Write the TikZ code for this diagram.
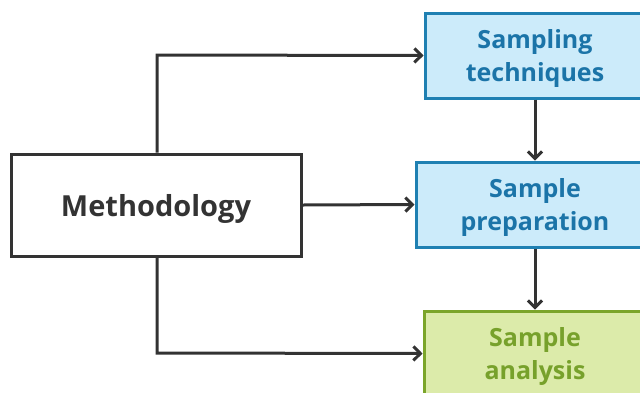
\documentclass[tikz,border=0pt]{standalone}
\usepackage{fontspec}
\setmainfont{Open Sans}
\usetikzlibrary{arrows.meta}
\definecolor{linecol}{HTML}{333333}
\definecolor{bluefill}{HTML}{CCEBFA}
\definecolor{blueline}{HTML}{1F80B2}
\definecolor{bluetext}{HTML}{1B74A8}
\definecolor{greenfill}{HTML}{DCEBAA}
\definecolor{greenline}{HTML}{7BA52A}
\definecolor{greentext}{HTML}{77A12B}
\newcommand\lowered[2]{\raisebox{-#1}[\height][\depth]{\begin{tabular}{@{}c@{}}#2\end{tabular}}}
\tikzset{
  box/.style={draw, line width=3pt, minimum height=#1, inner sep=0pt, font=\fontsize{25}{33}\selectfont\bfseries},
  bluebox/.style={box=85pt, fill=bluefill, draw=blueline, text=bluetext},
  greenbox/.style={box=85pt, fill=greenfill, draw=greenline, text=greentext},
  conn/.style={draw=linecol, line width=3pt, -{Straight Barb[length=7pt,width=14pt,line width=3pt]}},
}
\begin{document}
\begin{tikzpicture}[x=1pt,y=-1pt]
\useasboundingbox (0,0) rectangle (640,392);
\clip (0,0) rectangle (640,392);
\node[box=102pt, draw=linecol, text=linecol, minimum width=290pt, font=\fontsize{29}{35}\selectfont\bfseries] (meth) at (156,205) {\lowered{4pt}{Methodology}};
\node[bluebox, minimum width=220pt] (samp) at (535,55.5) {\lowered{2.5pt}{Sampling\\techniques}};
\node[bluebox, minimum width=238pt] (prep) at (535,204.5) {\lowered{2.5pt}{Sample\\preparation}};
\node[greenbox, minimum width=222pt] (anal) at (535,353.5) {\lowered{2.5pt}{Sample\\analysis}};
\coordinate (tc) at (157,55);
\coordinate (bc) at (157,353);
\draw[conn] (meth.north -| tc) -- (tc) -- (samp.west);
\draw[conn] (meth.east) -- (prep.west);
\draw[conn] (meth.south -| bc) -- (bc) -- (anal.west);
\draw[conn] (samp.south -| 535,0) -- (prep.north -| 535,0);
\draw[conn] (prep.south -| 535,0) -- (anal.north -| 535,0);
\end{tikzpicture}
\end{document}
